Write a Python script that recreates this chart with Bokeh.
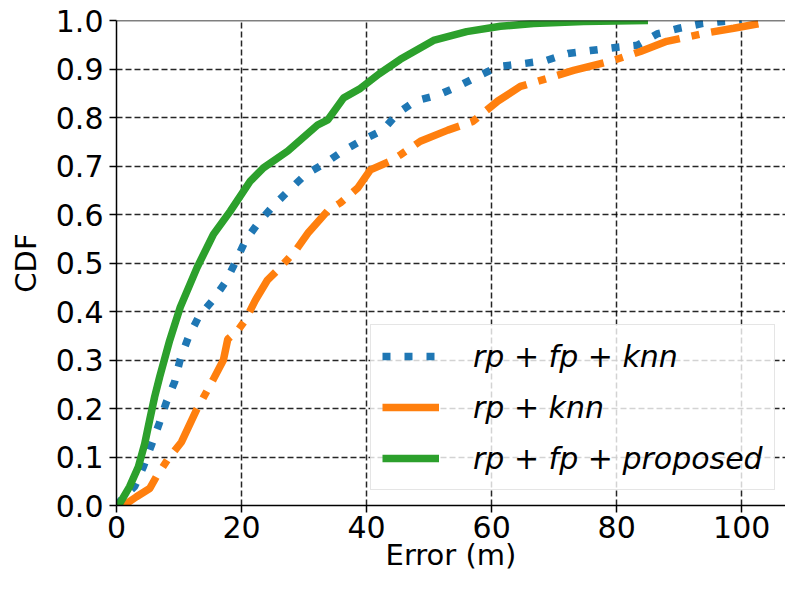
from bokeh.plotting import figure
from bokeh.models import Range1d, FixedTicker, NumeralTickFormatter, Span, Legend, LegendItem
from bokeh.embed import file_html
from bokeh.resources import INLINE

# ---- data ----
knn_fp_x = [0, 1.3, 2.9, 4.3, 5.6, 6.8, 8.0, 9.3, 10.2, 11.5, 13.1, 15.5, 17.4, 19.0, 20.6, 22.7, 25.1, 27.5, 30.2, 33.4,
            36.2, 39.4, 42.6, 45.0, 47.8, 51.4, 54.6, 57.8, 61.1, 65.0, 68.6, 72.2, 75.8, 79.5, 83.3, 86.6, 90.0, 93.8, 97.0, 100.0]
knn_fp_y = [0, 0.02, 0.039, 0.08, 0.125, 0.168, 0.214, 0.255, 0.302, 0.347, 0.388, 0.425, 0.46, 0.501, 0.546, 0.583, 0.618, 0.649, 0.682, 0.706,
            0.731, 0.754, 0.774, 0.809, 0.834, 0.846, 0.864, 0.885, 0.905, 0.911, 0.917, 0.932, 0.938, 0.944, 0.949, 0.973, 0.984, 0.994, 0.998, 1.0]

knn_x = [0.5, 1.6, 3.2, 5.3, 6.4, 8.3, 10.4, 12.8, 15.4, 17.1, 17.8, 19.4, 20.6, 22.2, 24.1, 26.2, 28.6, 30.7, 33.8, 35.8,
         38.6, 40.6, 43.8, 45.4, 48.6, 53.0, 57.0, 61.0, 64.6, 69.0, 73.1, 79.5, 83.8, 88.0, 93.8, 98.7, 103.0, 104.3]
knn_y = [0, 0.004, 0.018, 0.035, 0.06, 0.097, 0.131, 0.197, 0.258, 0.30, 0.343, 0.361, 0.382, 0.423, 0.464, 0.491, 0.525, 0.563, 0.608, 0.624,
         0.655, 0.692, 0.71, 0.723, 0.751, 0.774, 0.792, 0.834, 0.864, 0.881, 0.897, 0.918, 0.936, 0.957, 0.973, 0.984, 0.994, 1.0]

prop_x = [0, 0.5, 2.1, 3.5, 4.5, 5.3, 6.1, 6.9, 8.5, 10.2, 12.9, 15.5, 18.2, 21.4, 23.5, 27.4, 32.2, 33.8, 36.3, 39,
          42, 45.4, 50.7, 56, 61.4, 66.7, 74.7, 85]
prop_y = [0, 0.004, 0.039, 0.08, 0.127, 0.176, 0.224, 0.265, 0.34, 0.409, 0.491, 0.559, 0.607, 0.669, 0.696, 0.731, 0.785, 0.795, 0.84, 0.86,
          0.89, 0.92, 0.959, 0.977, 0.988, 0.994, 0.998, 1.0]

labels = ["rp + fp + knn", "rp + knn", "rp + fp + proposed"]
x_ticks = [0, 20, 40, 60, 80, 100]
y_ticks = [0.0, 0.1, 0.2, 0.3, 0.4, 0.5, 0.6, 0.7, 0.8, 0.9, 1.0]
x_title = "Error (m)"
y_title = "CDF"

FONT = "DejaVu Sans"
BLUE, ORANGE, GREEN = "#1f77b4", "#ff7f0e", "#2ca02c"

p = figure(width=785, height=574, output_backend="svg", toolbar_location=None,
           x_range=Range1d(0, 107.0), y_range=Range1d(0, 1.0),
           min_border_left=116, min_border_right=0, min_border_top=20, min_border_bottom=68)
p.outline_line_color = None
p.background_fill_color = "white"
p.border_fill_color = "white"

# grid
p.grid.grid_line_color = "black"
p.grid.grid_line_alpha = 0.85
p.grid.grid_line_dash = "6 3"
p.grid.grid_line_width = 1.5

# axes
for ax in (p.xaxis[0], p.yaxis[0]):
    ax.axis_line_color = "black"
    ax.axis_line_width = 1.5
    ax.major_tick_line_color = "black"
    ax.major_tick_line_width = 1.5
    ax.major_tick_out = 7
    ax.major_tick_in = 0
    ax.minor_tick_line_color = None
    ax.major_label_text_font = FONT
    ax.major_label_text_font_size = "30px"
    ax.major_label_text_color = "black"
    ax.axis_label_text_font = FONT
    ax.axis_label_text_font_size = "29px"
    ax.axis_label_text_font_style = "normal"
    ax.axis_label_text_color = "black"

p.xaxis.ticker = FixedTicker(ticks=x_ticks)
p.yaxis.ticker = FixedTicker(ticks=y_ticks)
p.yaxis.formatter = NumeralTickFormatter(format="0.0")
p.xaxis.axis_label = x_title
p.yaxis.axis_label = y_title
p.xaxis.major_label_standoff = 3
p.xaxis.axis_label_standoff = -3
p.yaxis.major_label_standoff = 6
p.yaxis.axis_label_standoff = 10

# top spine
p.add_layout(Span(location=1.0, dimension="width", line_color="black", line_width=1.5))

r1 = p.line(knn_fp_x, knn_fp_y, line_color=BLUE, line_width=7.5, line_dash="8 14", line_cap="butt")
r2 = p.line(knn_x, knn_y, line_color=ORANGE, line_width=7.5, line_dash="48 12 8 12", line_cap="butt")
r3 = p.line(prop_x, prop_y, line_color=GREEN, line_width=7.5, line_cap="butt")
# legend-only sample for the dash-dot series (drawn as a solid stroke, as in the reference), kept off-range
r2_leg = p.line([-20, -10], [-1, -1], line_color=ORANGE, line_width=7.5, line_cap="butt")

legend = Legend(items=[LegendItem(label=labels[0], renderers=[r1]),
                       LegendItem(label=labels[1], renderers=[r2_leg]),
                       LegendItem(label=labels[2], renderers=[r3])],
                location=(254, 15))
legend.label_text_font = FONT
legend.label_text_font_style = "italic"
legend.label_text_font_size = "30px"
legend.label_text_color = "black"
legend.glyph_width = 57
legend.glyph_height = 40
legend.label_height = 40
legend.spacing = 11
legend.padding = 11
legend.margin = 0
legend.label_standoff = 34
legend.border_line_color = "#cccccc"
legend.border_line_width = 1.5
legend.background_fill_color = "white"
legend.background_fill_alpha = 0.8
p.add_layout(legend, "center")

open("out.html", "w").write(file_html(p, INLINE))
